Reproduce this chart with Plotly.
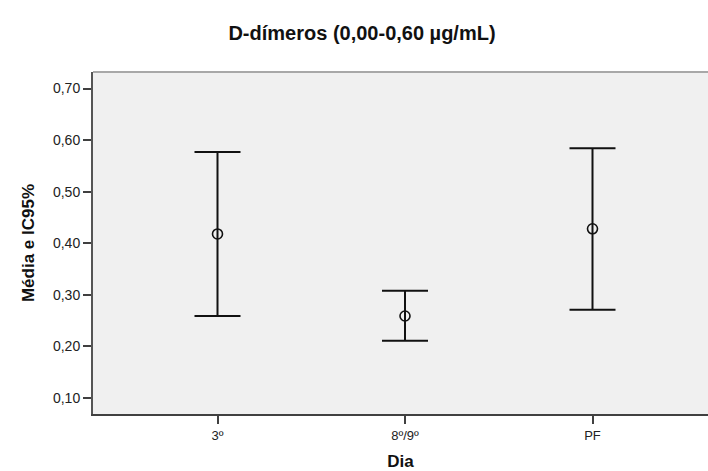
import plotly.graph_objects as go

categories = ["3º", "8º/9º", "PF"]
means = [0.418, 0.259, 0.428]
lower = [0.259, 0.211, 0.271]
upper = [0.577, 0.308, 0.584]
y_ticks = [0.10, 0.20, 0.30, 0.40, 0.50, 0.60, 0.70]

err_plus = [u - m for u, m in zip(upper, means)]
err_minus = [m - l for m, l in zip(means, lower)]

x_idx = list(range(len(categories)))

fig = go.Figure()
fig.add_trace(go.Scatter(
    x=x_idx, y=means, mode="markers",
    marker=dict(symbol="circle-open", size=10, color="#111111", line=dict(width=1.6, color="#111111")),
    error_y=dict(type="data", symmetric=False, array=err_plus, arrayminus=err_minus,
                 color="#111111", thickness=2, width=23),
    showlegend=False, hoverinfo="skip",
))

font_family = "Liberation Sans, Arial, sans-serif"

fig.update_layout(
    width=708, height=471,
    margin=dict(l=93, r=0, t=72, b=57),
    paper_bgcolor="white",
    plot_bgcolor="#f0f0f0",
    separators=", ",
    font=dict(family=font_family, color="#111111"),
    title=dict(text="<b>D-dímeros (0,00-0,60 µg/mL)</b>", x=362 / 708, xanchor="center",
               y=1 - 33 / 471, yanchor="middle", font=dict(size=20, color="#111111")),
    xaxis=dict(
        range=[-0.664, 2.616], tickmode="array", tickvals=x_idx, ticktext=categories,
        showgrid=False, zeroline=False, showline=True, linecolor="#404040", linewidth=2,
        ticks="outside", ticklen=8, tickwidth=1.5, tickcolor="#404040",
        tickfont=dict(size=13, color="#222222"),
        title=dict(text="<b>Dia</b>", font=dict(size=17, color="#111111"), standoff=14),
    ),
    yaxis=dict(
        range=[0.069, 0.732], tickmode="array", tickvals=y_ticks,
        ticktext=[f"{v:.2f}".replace(".", ",") for v in y_ticks],
        showgrid=False, zeroline=False, showline=True, linecolor="#555555", linewidth=2,
        ticks="outside", ticklen=8, tickwidth=1.5, tickcolor="#404040",
        tickfont=dict(size=14, color="#222222"),
        title=dict(text="<b>Média e IC95%</b>", font=dict(size=17, color="#111111"), standoff=14),
    ),
    shapes=[dict(type="line", xref="paper", yref="paper", x0=0, x1=1, y0=1, y1=1,
                 line=dict(color="#a8a8a8", width=2))],
)

fig.write_html("out.html")
